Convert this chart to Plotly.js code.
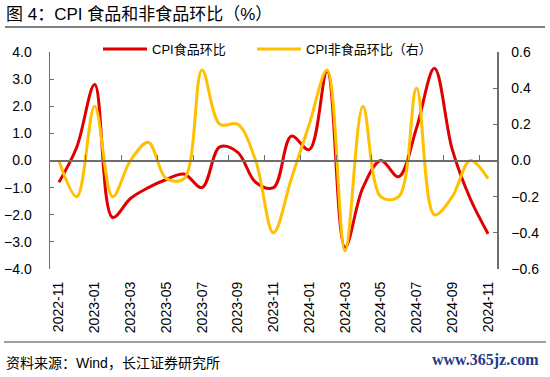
<!DOCTYPE html>
<html>
<head>
<meta charset="utf-8">
<script src="https://cdn.plot.ly/plotly-3.0.1.min.js"></script>
<style>
html,body{margin:0;padding:0;background:#fff;}
#chart{width:550px;height:377px;}
</style>
</head>
<body>
<div id="chart"></div>
<script>
// Data
const months = ["2022-11","2022-12","2023-01","2023-02","2023-03","2023-04","2023-05","2023-06","2023-07","2023-08","2023-09","2023-10","2023-11","2023-12","2024-01","2024-02","2024-03","2024-04","2024-05","2024-06","2024-07","2024-08","2024-09","2024-10","2024-11"];
const foodMoM = [-0.8, 0.5, 2.8, -2.1, -1.4, -1.0, -0.7, -0.5, -1.0, 0.5, 0.3, -0.8, -1.0, 0.9, 0.4, 3.3, -3.2, -1.0, 0.0, -0.6, 1.2, 3.4, 0.4, -1.4, -2.7];
const nonFoodMoM = [0.0, -0.2, 0.3, -0.2, 0.0, 0.1, -0.1, -0.1, 0.5, 0.2, 0.2, 0.0, -0.4, -0.1, 0.2, 0.5, -0.5, 0.3, -0.2, -0.2, 0.4, -0.3, -0.2, 0.0, -0.1];
const seriesNames = ["CPI食品环比", "CPI非食品环比（右）"];
const leftTicks = [-4, -3, -2, -1, 0, 1, 2, 3, 4];
const rightTicks = [-0.6, -0.4, -0.2, 0, 0.2, 0.4, 0.6];

const idx = months.map((m, i) => i);
const labelIdx = idx.filter(i => i % 2 === 0);
const labelText = labelIdx.map(i => months[i]);
const boundaryTicks = idx.filter(i => i % 2 === 1 && i < months.length - 1).map(i => i + 0.5);

const FONT = "'Liberation Sans', Arial, 'Noto Sans CJK SC', sans-serif";
const AX = "#6e6e6e";

// plot area in px
const L = 50, R = 497, T = 52, B = 269;
const W = R - L, H = B - T;
const px = x => (x - L) / W;
const py = y => (B - y) / H;

const traces = [
  {
    x: idx, y: foodMoM, name: seriesNames[0], type: "scatter", mode: "lines",
    line: {color: "#E00000", width: 3, shape: "spline", smoothing: 1},
    xaxis: "x", yaxis: "y", legend: "legend"
  },
  {
    x: idx, y: nonFoodMoM, name: seriesNames[1], type: "scatter", mode: "lines",
    line: {color: "#FFC000", width: 3, shape: "spline", smoothing: 1},
    xaxis: "x2", yaxis: "y2", legend: "legend2"
  }
];

const legendBase = {
  orientation: "h", xanchor: "left", y: py(49), yanchor: "middle",
  font: {family: FONT, size: 13, color: "#000"},
  bgcolor: "rgba(0,0,0,0)", itemwidth: 44
};

const layout = {
  width: 550, height: 377,
  margin: {l: L, r: 550 - R, t: T, b: 377 - B, pad: 0},
  paper_bgcolor: "#fff", plot_bgcolor: "rgba(0,0,0,0)",
  font: {family: FONT, size: 14, color: "#000"},
  showlegend: true,
  legend: Object.assign({}, legendBase, {x: px(98)}),
  legend2: Object.assign({}, legendBase, {x: px(252)}),
  xaxis: {
    type: "linear", range: [-0.5, months.length - 0.5],
    showline: false, showgrid: false, zeroline: false,
    tickmode: "array", tickvals: labelIdx, ticktext: labelText,
    ticks: "", tickangle: -90, tickfont: {family: FONT, size: 14, color: "#000"},
    ticklabelstandoff: 9, fixedrange: true
  },
  xaxis2: {
    type: "linear", range: [-0.5, months.length - 0.5],
    overlaying: "x", anchor: "free", position: 0.5, side: "bottom",
    showline: true, linecolor: AX, linewidth: 2,
    showgrid: false, zeroline: false,
    tickmode: "array", tickvals: boundaryTicks, ticks: "inside", ticklen: 5,
    tickcolor: AX, tickwidth: 1, showticklabels: false
  },
  yaxis: {
    range: [-4, 4], tickmode: "array", tickvals: leftTicks,
    tickformat: ".1f", ticks: "inside", ticklen: 4, tickcolor: AX,
    showline: true, linecolor: AX, linewidth: 1.5,
    showgrid: false, zeroline: false,
    tickfont: {family: FONT, size: 14, color: "#000"},
    ticklabelstandoff: 14
  },
  yaxis2: {
    range: [-0.6, 0.6], tickmode: "array", tickvals: rightTicks,
    tickformat: ".1f", ticks: "inside", ticklen: 4, tickcolor: AX,
    overlaying: "y", side: "right", anchor: "free", position: 1,
    showline: true, linecolor: AX, linewidth: 1.5,
    showgrid: false, zeroline: false,
    tickfont: {family: FONT, size: 14, color: "#000"},
    ticklabelstandoff: 10
  },
  shapes: [
    {type: "line", xref: "paper", yref: "paper", x0: px(5), x1: px(545), y0: py(27), y1: py(27),
     line: {color: "#808080", width: 2}},
    {type: "line", xref: "paper", yref: "paper", x0: px(4), x1: px(546), y0: py(342), y1: py(342),
     line: {color: "#404040", width: 1}}
  ],
  annotations: [
    {text: "图 4：CPI 食品和非食品环比（%）", xref: "paper", yref: "paper",
     x: px(4), y: py(15), xanchor: "left", yanchor: "middle", showarrow: false,
     font: {family: FONT, size: 17, color: "#000"}},
    {text: "资料来源：Wind，长江证券研究所", xref: "paper", yref: "paper",
     x: px(4), y: py(363), xanchor: "left", yanchor: "middle", showarrow: false,
     font: {family: FONT, size: 14, color: "#000"}},
    {text: "<b>www.365jz.com</b>", xref: "paper", yref: "paper",
     x: px(541), y: py(360), xanchor: "right", yanchor: "middle", showarrow: false,
     font: {family: "'Liberation Serif', 'DejaVu Serif', serif", size: 16, color: "#1F3C88"}}
  ]
};

Plotly.newPlot("chart", traces, layout, {displayModeBar: false, staticPlot: true});
</script>
</body>
</html>
